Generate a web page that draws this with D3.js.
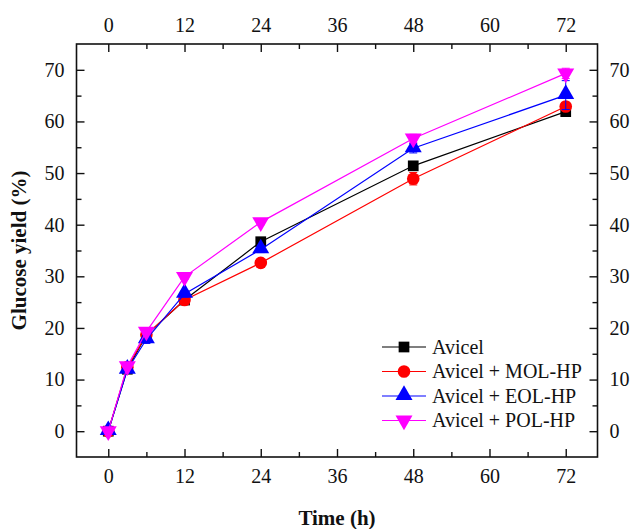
<!DOCTYPE html>
<html>
<head>
<meta charset="utf-8">
<script src="https://cdn.jsdelivr.net/npm/d3@7"></script>
<style>
  body { margin: 0; background: #fff; }
</style>
</head>
<body>
<div id="wrapper"></div>
<script>
// data
const times = [0, 3, 6, 12, 24, 48, 72];
const avicel = [0, 12.0, 18.6, 25.4, 36.7, 51.4, 61.9];
const avicelErr = [0.3, 0.5, 0.5, 0.6, 0.6, 0.6, 0.5];
const molHP = [0, 12.4, 18.7, 25.4, 32.6, 48.9, 62.9];
const molErr = [0.3, 0.5, 0.5, 0.5, 0.5, 1.2, 0.8];
const eolHP = [0, 11.9, 17.8, 26.6, 35.2, 54.8, 65.1];
const eolErr = [0.3, 0.6, 0.8, 0.6, 0.6, 0.9, 2.8];
const polHP = [0, 12.6, 19.3, 29.9, 40.5, 56.7, 69.3];
const polErr = [0.3, 0.5, 0.5, 0.5, 0.5, 0.8, 1.0];

const seriesNames = ["Avicel", "Avicel + MOL-HP", "Avicel + EOL-HP", "Avicel + POL-HP"];
const seriesColors = ["#000000", "#ff0000", "#0000ff", "#ff00ff"];
const seriesShapes = ["square", "circle", "triangle", "triangleDown"];

const xTicks = [0, 12, 24, 36, 48, 60, 72];
const yTicks = [0, 10, 20, 30, 40, 50, 60, 70];

const series = [
    { values: avicel, err: avicelErr },
    { values: molHP, err: molErr },
    { values: eolHP, err: eolErr },
    { values: polHP, err: polErr }
];

const serif = "'Liberation Serif', 'Times New Roman', serif";

let wSvg = 634;
let hSvg = 529;
let mLeft = 76.5, mRight = 597.5, mTop = 44, mBottom = 457;

let svg = d3.select("#wrapper").append("svg")
    .attr("width", wSvg)
    .attr("height", hSvg);

let xScale = d3.scaleLinear().domain([-5, 77]).range([mLeft, mRight]);
let yScale = d3.scaleLinear().domain([-5, 75]).range([mBottom, mTop]);

function minor(arr) {
    let out = [];
    for (let i = 0; i < arr.length - 1; i++) out.push((arr[i] + arr[i + 1]) / 2);
    return out;
}

// axes with inward ticks
function drawAxis(axisFn, scale, ticks, transform) {
    let g = svg.append("g").attr("transform", transform);
    g.call(axisFn(scale).tickValues(ticks).tickSize(-8).tickPadding(12)
        .tickFormat(d3.format("d")));
    g.append("g").call(axisFn(scale).tickValues(minor(ticks)).tickSize(-5).tickFormat(""));
    g.attr("font-family", serif).attr("font-size", 20);
    g.selectAll(".domain").remove();
    g.selectAll(".tick line").attr("stroke", "#111").attr("stroke-width", 1.4);
    g.selectAll("text").attr("fill", "#111");
    return g;
}

drawAxis(d3.axisBottom, xScale, xTicks, `translate(0,${mBottom})`);
drawAxis(d3.axisTop, xScale, xTicks, `translate(0,${mTop})`);
drawAxis(d3.axisLeft, yScale, yTicks, `translate(${mLeft},0)`);
drawAxis(d3.axisRight, yScale, yTicks, `translate(${mRight},0)`);

// frame
svg.append("rect")
    .attr("x", mLeft).attr("y", mTop)
    .attr("width", mRight - mLeft).attr("height", mBottom - mTop)
    .attr("fill", "none").attr("stroke", "#111").attr("stroke-width", 1.6);

// axis titles
svg.append("text")
    .attr("x", (mLeft + mRight) / 2).attr("y", 525)
    .attr("text-anchor", "middle")
    .attr("font-family", serif).attr("font-size", 21).attr("font-weight", "bold")
    .attr("fill", "#111")
    .text("Time (h)");

svg.append("text")
    .attr("transform", `translate(26,${(mTop + mBottom) / 2}) rotate(-90)`)
    .attr("text-anchor", "middle")
    .attr("font-family", serif).attr("font-size", 21).attr("font-weight", "bold")
    .attr("fill", "#111")
    .text("Glucose yield (%)");

const symbolFor = {
    square: d3.symbol().type(d3.symbolSquare).size(115),
    circle: d3.symbol().type(d3.symbolCircle).size(125),
    triangle: d3.symbol().type(d3.symbolTriangle).size(125),
    triangleDown: d3.symbol().type(d3.symbolTriangle).size(125)
};

function marker(g, shape, color, x, y) {
    let p = g.append("path")
        .attr("d", symbolFor[shape]())
        .attr("fill", color);
    if (shape === "triangleDown") p.attr("transform", `translate(${x},${y}) rotate(180)`);
    else if (shape === "triangle") p.attr("transform", `translate(${x},${y - 1})`);
    else p.attr("transform", `translate(${x},${y})`);
}

let line = d3.line()
    .x(d => xScale(d[0]))
    .y(d => yScale(d[1]));

series.forEach((s, k) => {
    let color = seriesColors[k];
    let pts = times.map((t, i) => [t, s.values[i]]);
    let g = svg.append("g");
    g.append("path")
        .datum(pts)
        .attr("d", line)
        .attr("fill", "none")
        .attr("stroke", color)
        .attr("stroke-width", 1.2);
    // error bars
    times.forEach((t, i) => {
        let x = xScale(t);
        let y1 = yScale(s.values[i] - s.err[i]);
        let y2 = yScale(s.values[i] + s.err[i]);
        g.append("line").attr("x1", x).attr("x2", x).attr("y1", y1).attr("y2", y2)
            .attr("stroke", color).attr("stroke-width", 1);
        [y1, y2].forEach(yy => g.append("line")
            .attr("x1", x - 4).attr("x2", x + 4).attr("y1", yy).attr("y2", yy)
            .attr("stroke", color).attr("stroke-width", 1));
    });
    times.forEach((t, i) => marker(g, seriesShapes[k], color, xScale(t), yScale(s.values[i])));
});

// legend
let legend = svg.append("g").attr("transform", "translate(382,347)");
seriesNames.forEach((name, k) => {
    let row = legend.append("g").attr("transform", `translate(0,${k * 24.5})`);
    row.append("line").attr("x1", 0).attr("x2", 44).attr("y1", 0).attr("y2", 0)
        .attr("stroke", seriesColors[k]).attr("stroke-width", 1.2);
    marker(row, seriesShapes[k], seriesColors[k], 22, 0);
    row.append("text").attr("x", 50).attr("y", 6.5)
        .attr("font-family", serif).attr("font-size", 20).attr("fill", "#111")
        .text(name);
});
</script>
</body>
</html>
